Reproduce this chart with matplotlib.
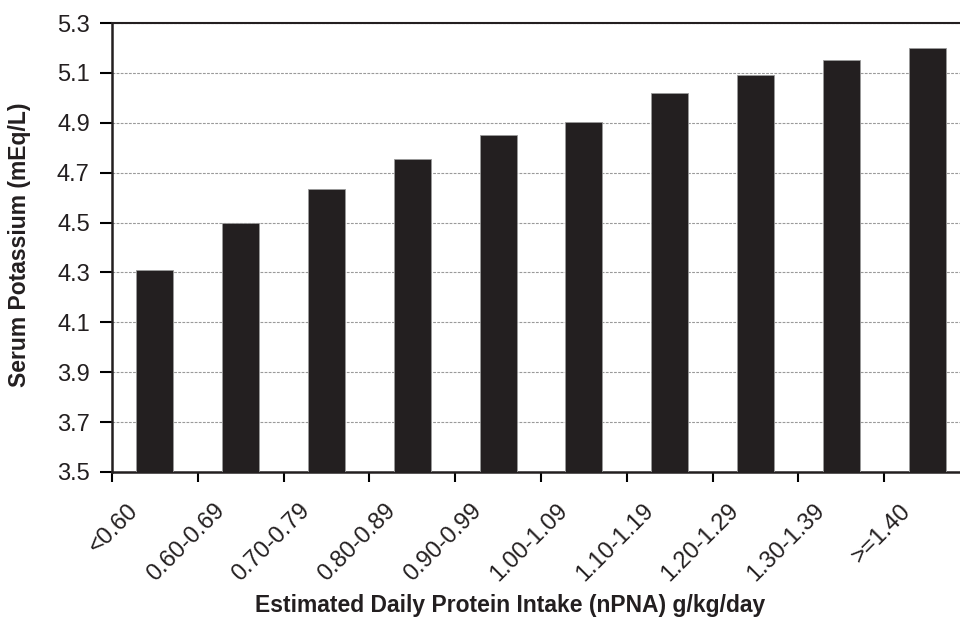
import matplotlib
matplotlib.use("Agg")
import matplotlib.pyplot as plt
import matplotlib.transforms as mtransforms

# values
categories = ["<0.60", "0.60-0.69", "0.70-0.79", "0.80-0.89", "0.90-0.99",
              "1.00-1.09", "1.10-1.19", "1.20-1.29", "1.30-1.39", ">=1.40"]
potassium = [4.31, 4.50, 4.635, 4.755, 4.85, 4.905, 5.02, 5.09, 5.15, 5.20]
yticks = [3.5, 3.7, 3.9, 4.1, 4.3, 4.5, 4.7, 4.9, 5.1, 5.3]

plt.rcParams['font.family'] = ['Liberation Sans', 'DejaVu Sans']

fig = plt.figure(figsize=(9.6, 6.21), dpi=100)
ax = fig.add_axes([112/960, 1-472/621, 858/960, 449/621])

x = list(range(len(categories)))
ax.bar(x, potassium, width=0.43, bottom=0, color='#231f20',
       edgecolor='#9a9a9a', linewidth=0.6, zorder=3)

ax.set_ylim(3.5, 5.3)
ax.set_xlim(-0.5, len(categories) - 0.5)
ax.set_yticks(yticks)
ax.set_yticklabels(["%.1f" % v for v in yticks], fontsize=17, color='#231f20')
ax.yaxis.grid(True, color='#9a9a9a', linestyle=(0, (2.5, 1.2)), linewidth=0.8, zorder=0)

# ticks between categories, labels at the bars
ax.set_xticks([i - 0.5 for i in x])
ax.set_xticklabels([])
ax.set_xticks(x, minor=True)
ax.set_xticklabels(categories, minor=True, rotation=45, ha='right', fontsize=17, color='#231f20')
ax.tick_params(axis='x', which='minor', length=0, pad=20)
ax.tick_params(axis='x', which='major', length=7, width=1.5, direction='out')
ax.tick_params(axis='y', length=9, width=1.5, direction='out', pad=7)
offset = mtransforms.ScaledTranslation(-12/100, 0, fig.dpi_scale_trans)
for lbl in ax.get_xticklabels(minor=True):
    lbl.set_transform(lbl.get_transform() + offset)

for side in ['left', 'bottom']:
    ax.spines[side].set_linewidth(1.8)
    ax.spines[side].set_color('#231f20')
ax.spines['top'].set_linewidth(1.5)
ax.spines['top'].set_color('#231f20')
ax.spines['right'].set_visible(False)

ax.set_xlabel('Estimated Daily Protein Intake (nPNA) g/kg/day', fontsize=16.5,
              fontweight='bold', color='#231f20')
ax.set_ylabel('Serum Potassium (mEq/L)', fontsize=16.5, fontweight='bold', color='#231f20')
ax.xaxis.set_label_coords((510-112)/858, -(594-472)/449)
ax.yaxis.set_label_coords((31-112)/858, (472-245)/449)

fig.savefig('out.png', dpi=100)
